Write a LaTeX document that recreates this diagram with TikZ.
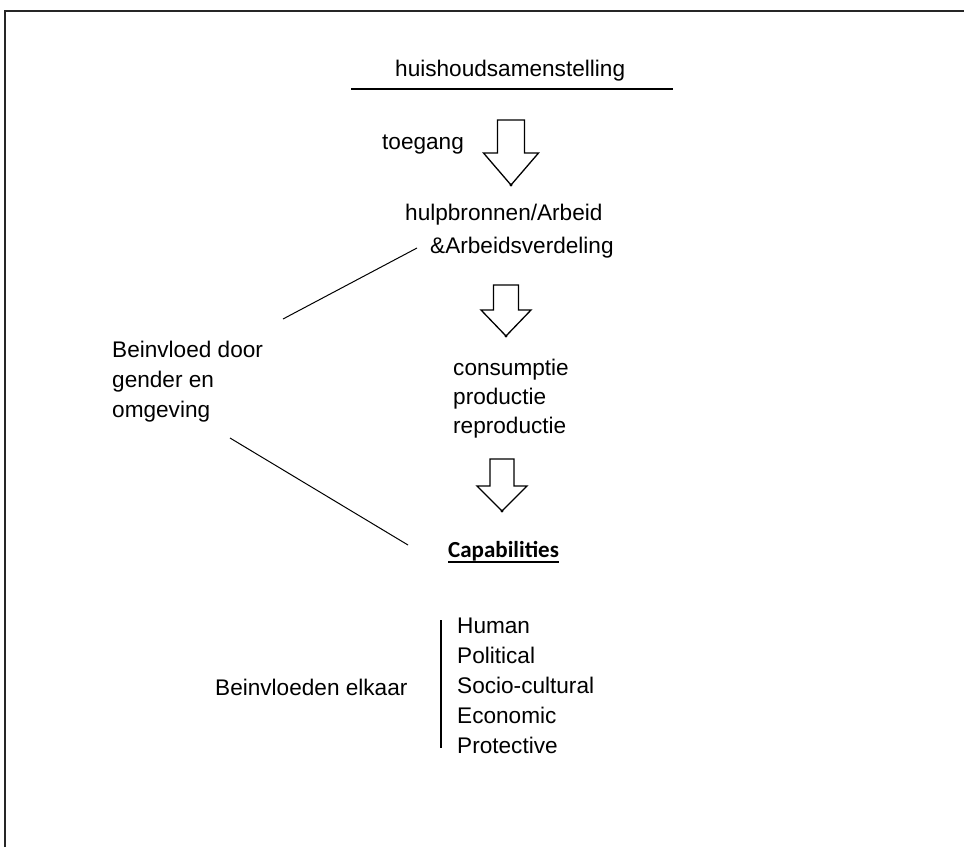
\documentclass[tikz,border=0pt]{standalone}
\usepackage{fontspec}
\setmainfont{Liberation Sans}
\newfontfamily\calibri{Carlito}
\usetikzlibrary{positioning}
\newcommand{\tekst}{\fontsize{22.6}{30}\selectfont}
% block arrow: tip, length, half shaft, half head, head length
\newcommand{\blokpijl}[5]{%
  \draw[pijl] (#1) -- ++(-#4,-#5) -- ++(#4-#3,0) -- ++(0,-#2+#5)
    -- ++(2*#3,0) -- ++(0,#2-#5) -- ++(#4-#3,0) -- cycle;
  \fill (#1) circle (1.6);}

\begin{document}
\begin{tikzpicture}[x=1pt,y=-1pt,
    lbl/.style={font=\tekst,inner sep=0pt,anchor=base west,align=left},
    pijl/.style={draw=black,line width=1.3pt,fill=white,line join=miter},
    lijn/.style={black,line width=1pt}]
    \useasboundingbox (0,0) rectangle (964,847);
    \draw[gray!30!black,line width=2.2pt] (5,847) -- (5,11) -- (964,11);

    % multi-line nodes: base is the last line
    \node[lbl] (huis) at (395,76) {huishoudsamenstelling};
    \node[lbl] (toeg) at (382,149) {toegang};
    \node[lbl] (hulp) at (405,220) {hulpbronnen/Arbeid};
    \node[lbl] (verd) at (430,253) {\&Arbeidsverdeling};
    \node[lbl,font=\fontsize{22.6}{29}\selectfont] (cons) at (453,433) {consumptie\\productie\\reproductie};
    \node[inner sep=0pt,anchor=base west,font=\calibri\bfseries\fontsize{23}{27}\selectfont] (cap) at (448,557) {Capabilities};
    \node[lbl] (bein) at (112,417) {Beinvloed door\\gender en\\omgeving};
    \node[lbl] (elk) at (215,695) {Beinvloeden elkaar};
    \node[lbl] (soort) at (457,753) {Human\\Political\\Socio-cultural\\Economic\\Protective};

    \coordinate (h1) at (351,89);
    \coordinate (h2) at (673,89);
    \coordinate (p1) at (511,185);
    \coordinate (p2) at (506,336);
    \coordinate (p3) at (502,511);
    \coordinate (b1) at (283,319);
    \coordinate (b2) at (417,248);
    \coordinate (b3) at (230,438);
    \coordinate (b4) at (408,545);
    \coordinate (v1) at (441,620);
    \coordinate (v2) at (441,748);

    \draw[lijn,line width=1.5pt] (h1) -- (h2);
    \draw[lijn,line width=1.2pt] (cap.base west) ++(0,5) -- ++(111,0);
    \blokpijl{p1}{65}{13.5}{27.5}{32}
    \blokpijl{p2}{51}{12.5}{25}{26}
    \blokpijl{p3}{52}{12}{25}{25}
    \draw[lijn] (b1) -- (b2);
    \draw[lijn] (b3) -- (b4);
    \draw[lijn,line width=1.5pt] (v1) -- (v2);
\end{tikzpicture}
\end{document}
